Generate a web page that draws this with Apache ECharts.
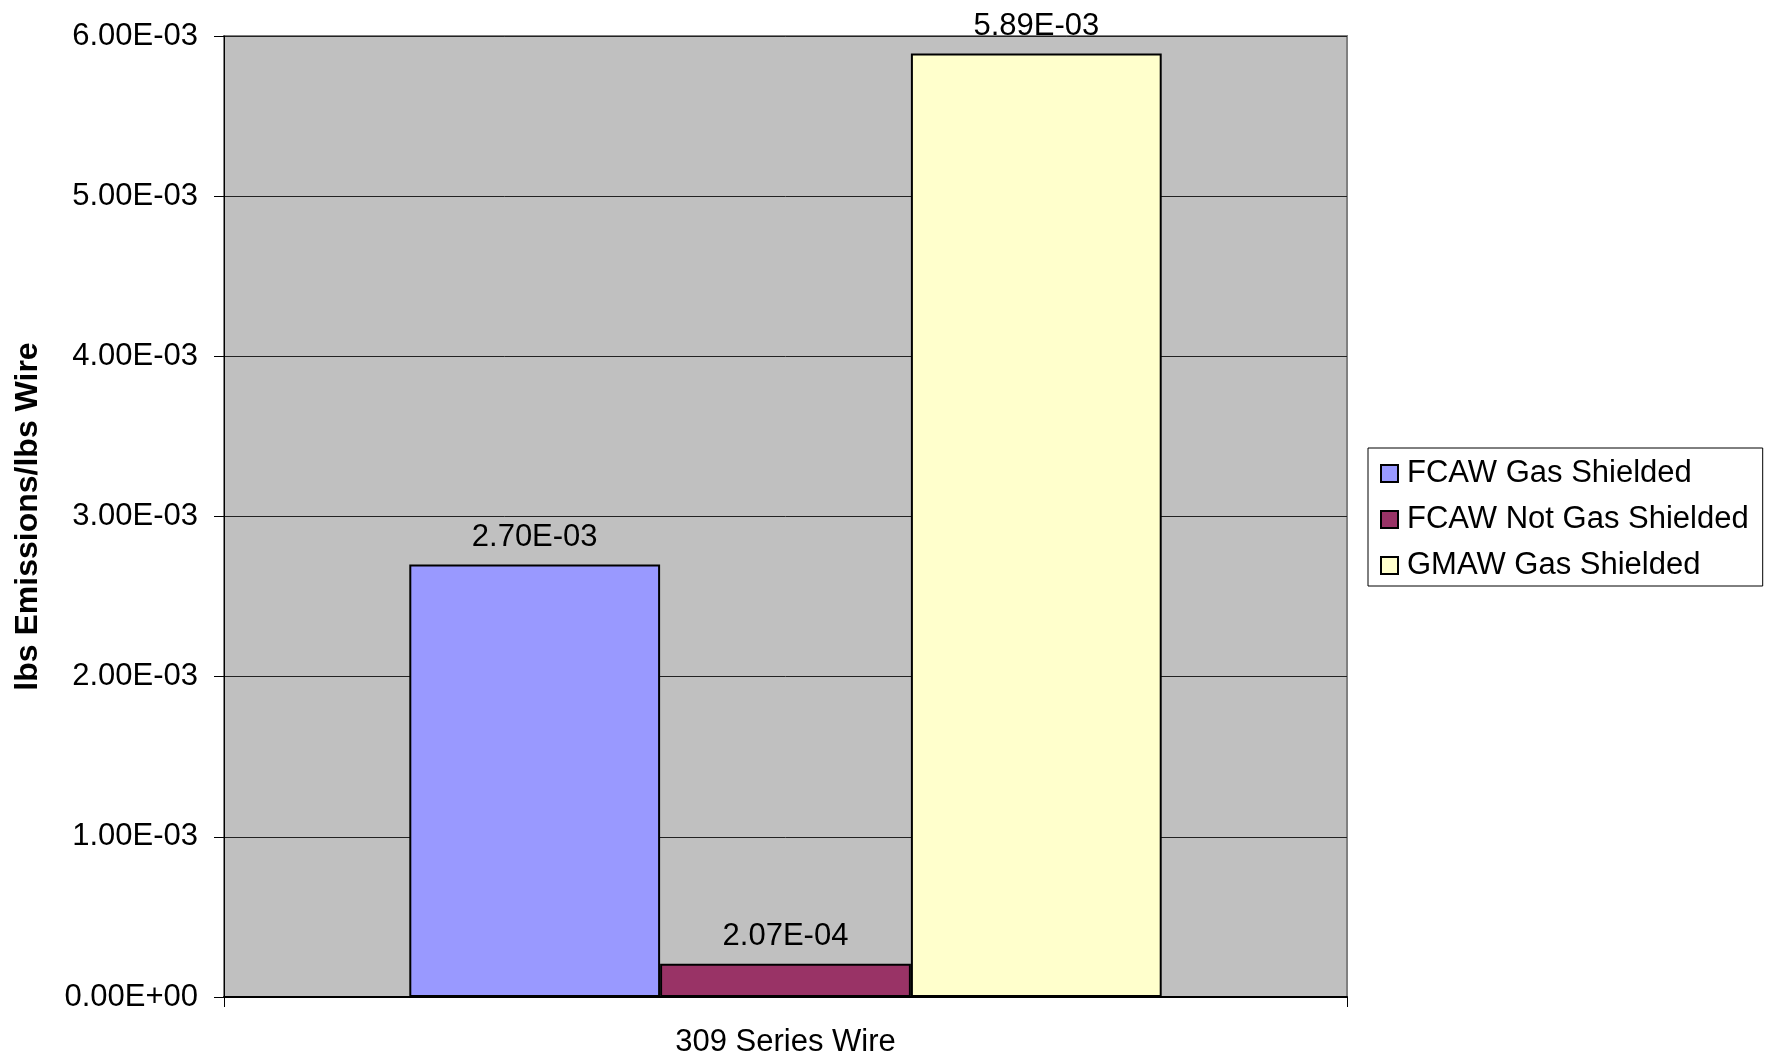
<!DOCTYPE html>
<html>
<head>
<meta charset="utf-8">
<script src="https://cdn.jsdelivr.net/npm/echarts@6/dist/echarts.min.js"></script>
<style>
  html, body { margin: 0; padding: 0; background: #fff; }
  #chart { width: 1780px; height: 1062px; }
</style>
</head>
<body>
<div id="chart"></div>
<script>
// data
var categories = ['309 Series Wire'];
var seriesNames = ['FCAW Gas Shielded', 'FCAW Not Gas Shielded', 'GMAW Gas Shielded'];
var seriesValues = [[2.70e-3], [2.07e-4], [5.89e-3]];
var seriesColors = ['#9999FF', '#993366', '#FFFFCC'];

// 2.70E-03 style
function sci(v) {
    if (v === 0) return '0.00E+00';
    var s = v.toExponential(2).toUpperCase();
    var parts = s.split('E');
    var exp = parseInt(parts[1], 10);
    var sign = exp < 0 ? '-' : '+';
    var e = Math.abs(exp);
    return parts[0] + 'E' + sign + (e < 10 ? '0' + e : e);
}

var font = 'Liberation Sans, Arial, sans-serif';
var fs = 31;

var chart = echarts.init(document.getElementById('chart'));

var series = [];
for (var i = 0; i < seriesNames.length; i++) {
    series.push({
        name: seriesNames[i],
        type: 'bar',
        data: seriesValues[i],
        barGap: '0%',
        barCategoryGap: '33%',
        itemStyle: { color: seriesColors[i], borderColor: '#000', borderWidth: 2 },
        label: {
            show: true,
            position: 'top',
            distance: 12,
            color: '#000',
            fontFamily: font,
            fontSize: fs,
            formatter: function (p) { return sci(p.value); }
        }
    });
}

var option = {
    animation: false,
    backgroundColor: '#fff',
    grid: {
        left: 224, right: 433, top: 36, bottom: 65,
        show: true,
        backgroundColor: '#C0C0C0',
        borderColor: '#808080',
        borderWidth: 2
    },
    legend: {
        orient: 'vertical',
        left: 1368,
        top: 448,
        padding: [10, 14, 5, 12],
        itemGap: 15,
        itemWidth: 17,
        itemHeight: 17,
        borderColor: '#000',
        borderWidth: 1,
        backgroundColor: '#fff',
        icon: 'rect',
        textStyle: { color: '#000', fontFamily: font, fontSize: fs, padding: [0, 0, 0, 4] },
        data: seriesNames.map(function (n) {
            return { name: n, itemStyle: { borderColor: '#000', borderWidth: 2 } };
        })
    },
    xAxis: {
        type: 'category',
        data: categories,
        axisLine: { lineStyle: { color: '#000', width: 2 } },
        axisTick: { show: true, length: 10, lineStyle: { color: '#000', width: 1 } },
        axisLabel: { color: '#000', fontFamily: font, fontSize: fs, margin: 30 }
    },
    yAxis: {
        type: 'value',
        min: 0,
        max: 0.006,
        interval: 0.001,
        name: 'lbs Emissions/lbs Wire',
        nameLocation: 'middle',
        nameGap: 180,
        nameTextStyle: { color: '#000', fontFamily: font, fontSize: 32, fontWeight: 'bold' },
        axisLine: { show: true, lineStyle: { color: '#000', width: 1 } },
        axisTick: { show: true, length: 10, lineStyle: { color: '#000' } },
        axisLabel: {
            color: '#000', fontFamily: font, fontSize: fs, margin: 26,
            padding: [9, 0, 0, 0],
            formatter: function (v) { return sci(v); }
        },
        splitLine: { show: true, lineStyle: { color: '#222', width: 1 } }
    },
    series: series
};

chart.setOption(option);
</script>
</body>
</html>
